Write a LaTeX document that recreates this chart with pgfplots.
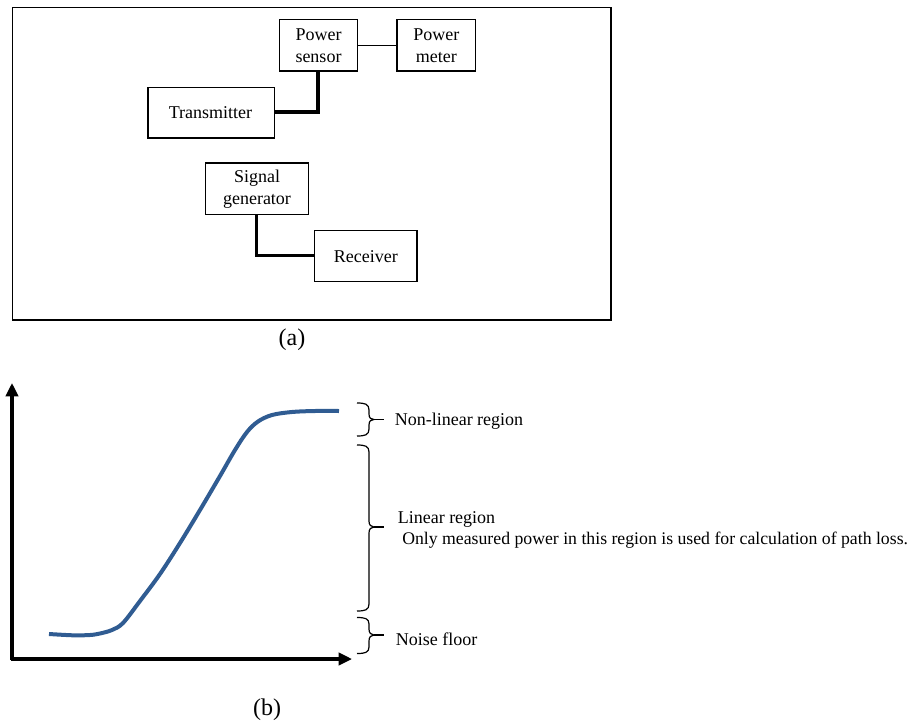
\documentclass[border=0pt]{standalone}
\usepackage{fontspec}
\setmainfont{Liberation Serif}
\usepackage{pgfplots}
\pgfplotsset{compat=1.18}
\usetikzlibrary{arrows.meta}
\definecolor{curveblue}{RGB}{48,92,146}
\newcommand{\fs}{\fontsize{13.5}{16.3}\selectfont}
\newcommand{\fsl}{\fontsize{13.3}{16.3}\selectfont}
\newcommand{\fl}{\fontsize{18}{21}\selectfont}
\begin{document}
\begin{tikzpicture}
\begin{axis}[
  width=688.5pt, height=543.75pt, scale only axis,
  xmin=0, xmax=918, ymin=0, ymax=725, y dir=reverse,
  hide axis, clip=false,
]
\path (0,0) rectangle (918,725);
% ---------- (a) diagram ----------
\draw[line width=1.1pt] (12.5,7.5) rectangle (611,320);
\draw[line width=1.1pt] (279.5,19.5) rectangle (357.5,71);
\draw[line width=1.1pt] (397,19.5) rectangle (475.5,71);
\draw[line width=1.1pt] (148,87.5) rectangle (274.5,138);
\draw[line width=1.1pt] (205.5,163) rectangle (308.5,214.5);
\draw[line width=1.1pt] (314.5,230.5) rectangle (417,281.5);
\draw[line width=1.1pt] (357.5,45.5) -- (397,45.5);
\draw[line width=2.6pt] (274.5,112) -- (318,112) -- (318,71);
\draw[line width=2.6pt] (256.5,214.5) -- (256.5,255.5) -- (314.5,255.5);
\node[align=center, inner sep=0pt, font=\fs] at (318.5,45.5) {Power\\sensor};
\node[align=center, inner sep=0pt, font=\fs] at (436.25,45.5) {Power\\meter};
\node[inner sep=0pt, font=\fs] at (210.5,113) {Transmitter};
\node[align=center, inner sep=0pt, font=\fs] at (257,189) {Signal\\generator};
\node[inner sep=0pt, font=\fs] at (365.75,256.5) {Receiver};
\node[inner sep=0pt, font=\fl] at (292,340) {(a)};
% ---------- (b) axes ----------
\draw[line width=2.3pt, -{Triangle[length=10pt,width=9.2pt]}] (12,660) -- (12,383);
\draw[line width=2.3pt, -{Triangle[length=10pt,width=9.2pt]}] (11,659) -- (352,659);
\addplot[curveblue, line width=3pt, smooth, tension=0.55] coordinates {
(49,634) (73,635.3) (90,635) (100,633.5) (112,630) (123,623) (140,601)
(160,574) (180,543) (200,510) (220,476) (235,450) (247,432)
(258,421.5) (272,415) (292,412) (315,411) (339,411)
};
% braces
\draw[line width=0.9pt] (357,403) .. controls (365,403) and (369,404) .. (369,410) -- (369,414)
  .. controls (369,418) and (371,419.5) .. (374,419.5)
  .. controls (371,419.5) and (369,421) .. (369,425) -- (369,429)
  .. controls (369,435) and (365,436) .. (357,436);
\draw[line width=0.9pt] (374,419.5) -- (384,419.5);
\draw[line width=0.9pt] (357,445) .. controls (365,445) and (369,446) .. (369,452) -- (369,521)
  .. controls (369,525) and (371,527) .. (374,527)
  .. controls (371,527) and (369,529) .. (369,533) -- (369,604)
  .. controls (369,610) and (365,611) .. (357,611);
\draw[line width=0.9pt] (374,527) -- (384,527);
\draw[line width=0.9pt] (357,617.5) .. controls (365,617.5) and (369,618.5) .. (369,624) -- (369,629)
  .. controls (369,633) and (371,635) .. (374,635)
  .. controls (371,635) and (369,637) .. (369,641) -- (369,647)
  .. controls (369,652.5) and (365,653.5) .. (357,653.5);
\draw[line width=0.9pt] (374,635) -- (384,635);
\node[anchor=base west, inner sep=0pt, font=\fs] at (394.5,425) {Non-linear region};
\node[anchor=base west, inner sep=0pt, font=\fs] at (397.5,523.5) {Linear region};
\node[anchor=base west, inner sep=0pt, font=\fsl] at (402,544) {Only measured power in this region is used for calculation of path loss.};
\node[anchor=base west, inner sep=0pt, font=\fs] at (395.5,645) {Noise floor};
\node[inner sep=0pt, font=\fl] at (267,710) {(b)};
\end{axis}
\end{tikzpicture}
\end{document}
